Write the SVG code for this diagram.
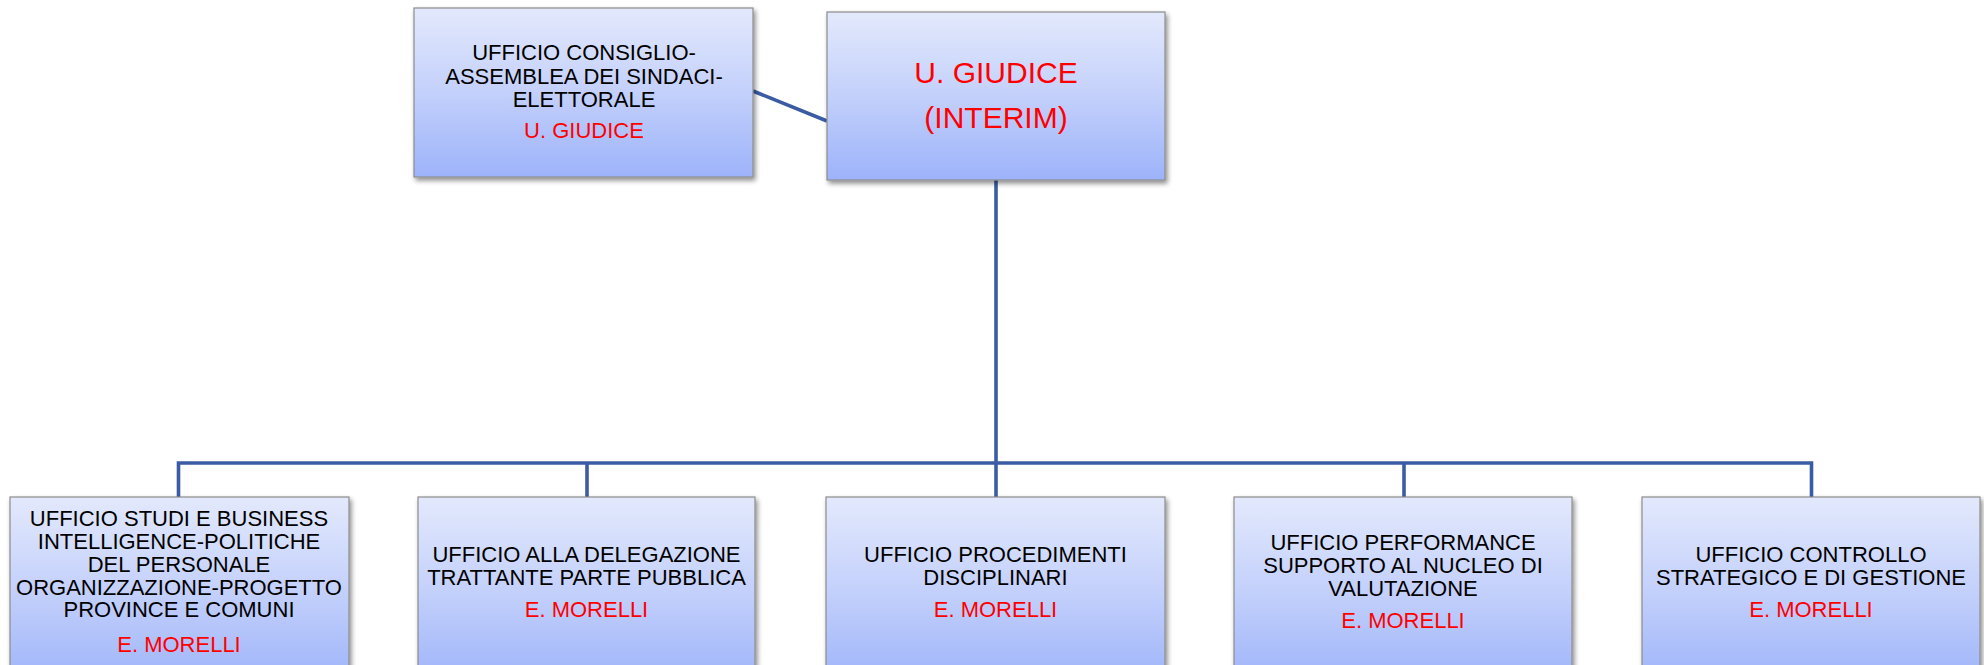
<svg xmlns="http://www.w3.org/2000/svg" width="1984" height="665" viewBox="0 0 1984 665">
  <defs>
    <linearGradient id="boxGrad" x1="0" y1="0" x2="0" y2="1">
      <stop offset="0" stop-color="#E3E9FC"/>
      <stop offset="0.5" stop-color="#C3D0FB"/>
      <stop offset="1" stop-color="#9DB3FA"/>
    </linearGradient>
    <filter id="shadow" x="-10%" y="-10%" width="125%" height="125%">
      <feGaussianBlur in="SourceAlpha" stdDeviation="2.5"/>
      <feOffset dx="2" dy="3" result="b"/>
      <feComponentTransfer><feFuncA type="linear" slope="0.45"/></feComponentTransfer>
      <feMerge><feMergeNode/><feMergeNode in="SourceGraphic"/></feMerge>
    </filter>
  </defs>
  <style>
    .box { fill: url(#boxGrad); stroke: #8C8C8C; stroke-width: 1.2; filter: url(#shadow); }
    .t { font-family: "Liberation Sans", Arial, sans-serif; font-size: 22px; fill: #000; text-anchor: middle; }
    .r { font-family: "Liberation Sans", Arial, sans-serif; font-size: 22px; fill: #FF0000; text-anchor: middle; }
    .big { font-family: "Liberation Sans", Arial, sans-serif; font-size: 30px; fill: #FF0000; text-anchor: middle; }
    .conn { fill: none; stroke: #3B5CA4; stroke-width: 3.6; }
  </style>
  <rect width="1984" height="665" fill="#FFFFFF"/>

  <g id="connectors">
    <line class="conn" x1="753" y1="91" x2="827" y2="121"/>
    <line class="conn" x1="996" y1="180" x2="996" y2="463"/>
    <polyline class="conn" points="178.5,497 178.5,463 1811.5,463 1811.5,497"/>
    <line class="conn" x1="587" y1="463" x2="587" y2="497"/>
    <line class="conn" x1="996" y1="463" x2="996" y2="497"/>
    <line class="conn" x1="1404" y1="463" x2="1404" y2="497"/>
  </g>

  <g id="node-consiglio">
    <rect class="box" x="414" y="8" width="339" height="169"/>
    <text class="t" x="584" y="60">UFFICIO CONSIGLIO-</text>
    <text class="t" x="584" y="84">ASSEMBLEA DEI SINDACI-</text>
    <text class="t" x="584" y="107">ELETTORALE</text>
    <text class="r" x="584" y="138">U. GIUDICE</text>
  </g>

  <g id="node-giudice">
    <rect class="box" x="827" y="12" width="338" height="168"/>
    <text class="big" x="996" y="83">U. GIUDICE</text>
    <text class="big" x="996" y="128">(INTERIM)</text>
  </g>

  <g id="node-studi">
    <rect class="box" x="10" y="497" width="339" height="190"/>
    <text class="t" x="179" y="526">UFFICIO STUDI E BUSINESS</text>
    <text class="t" x="179" y="548.5">INTELLIGENCE-POLITICHE</text>
    <text class="t" x="179" y="571.5">DEL PERSONALE</text>
    <text class="t" x="179" y="594.5">ORGANIZZAZIONE-PROGETTO</text>
    <text class="t" x="179" y="617">PROVINCE E COMUNI</text>
    <text class="r" x="179" y="652">E. MORELLI</text>
  </g>

  <g id="node-delegazione">
    <rect class="box" x="418" y="497" width="337" height="190"/>
    <text class="t" x="586.5" y="562">UFFICIO ALLA DELEGAZIONE</text>
    <text class="t" x="586.5" y="584.5">TRATTANTE PARTE PUBBLICA</text>
    <text class="r" x="586.5" y="617">E. MORELLI</text>
  </g>

  <g id="node-procedimenti">
    <rect class="box" x="826" y="497" width="339" height="190"/>
    <text class="t" x="995.5" y="562">UFFICIO PROCEDIMENTI</text>
    <text class="t" x="995.5" y="584.5">DISCIPLINARI</text>
    <text class="r" x="995.5" y="617">E. MORELLI</text>
  </g>

  <g id="node-performance">
    <rect class="box" x="1234" y="497" width="338" height="190"/>
    <text class="t" x="1403" y="550">UFFICIO PERFORMANCE</text>
    <text class="t" x="1403" y="573">SUPPORTO AL NUCLEO DI</text>
    <text class="t" x="1403" y="596">VALUTAZIONE</text>
    <text class="r" x="1403" y="628">E. MORELLI</text>
  </g>

  <g id="node-controllo">
    <rect class="box" x="1642" y="497" width="338" height="190"/>
    <text class="t" x="1811" y="562">UFFICIO CONTROLLO</text>
    <text class="t" x="1811" y="584.5">STRATEGICO E DI GESTIONE</text>
    <text class="r" x="1811" y="617">E. MORELLI</text>
  </g>
</svg>
